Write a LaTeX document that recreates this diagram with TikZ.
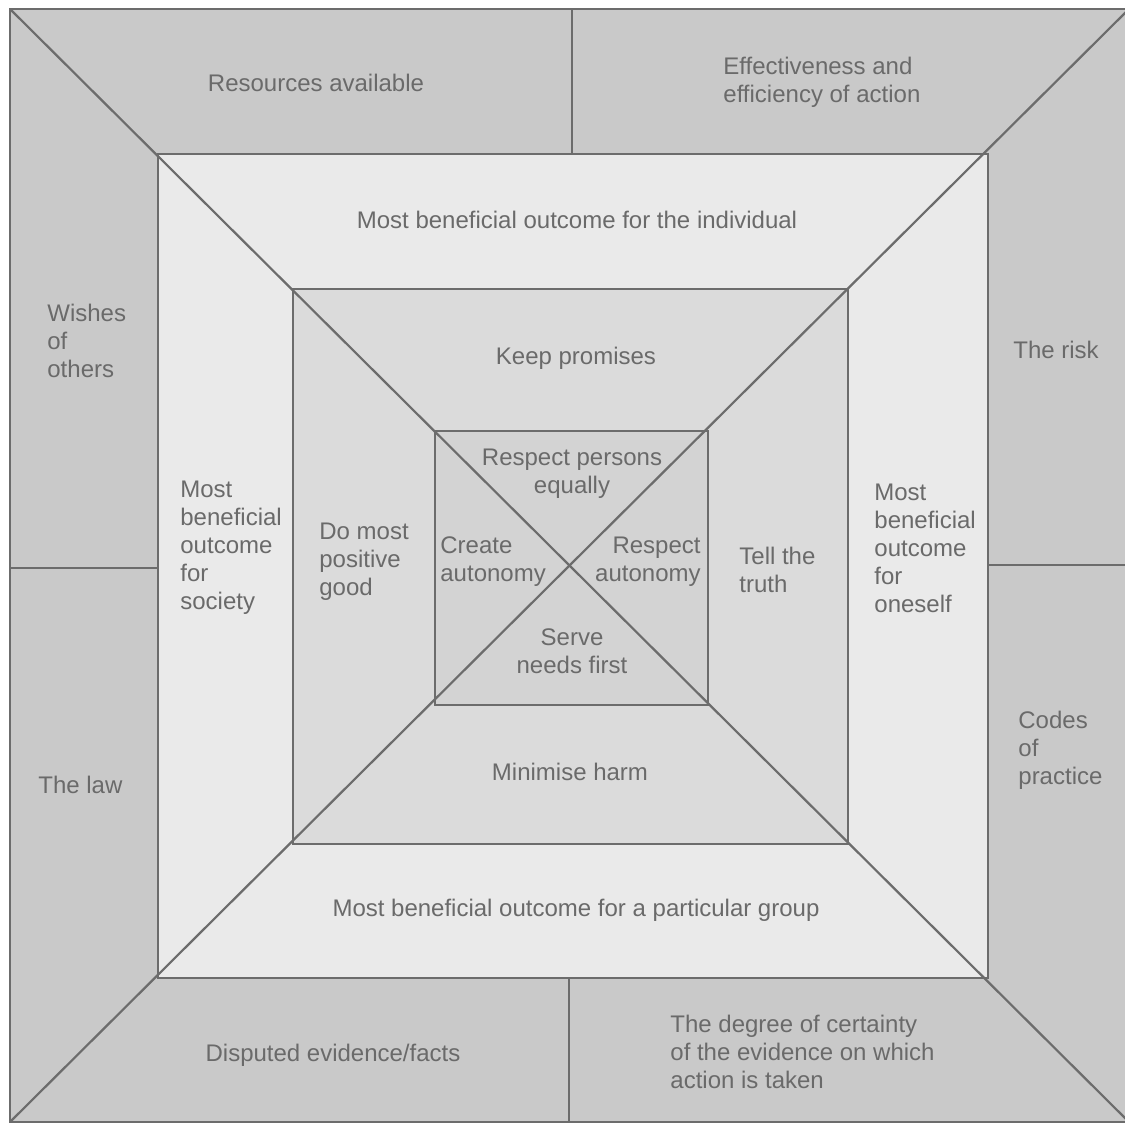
\documentclass[tikz,border=0pt]{standalone}
\usepackage{fontspec}
\setmainfont{Liberation Sans}
\definecolor{gridline}{HTML}{6C6C6C}
\definecolor{labelgray}{HTML}{6A6A6A}
\definecolor{ringouter}{HTML}{C9C9C9}
\definecolor{ringsecond}{HTML}{EAEAEA}
\definecolor{ringthird}{HTML}{DBDBDB}
\definecolor{ringinner}{HTML}{D3D3D3}
\begin{document}
\begin{tikzpicture}[x=0.5pt,y=-0.5pt,
    lbl/.style={font=\fontsize{12}{14}\selectfont, text=labelgray, inner sep=0pt},
    gridedge/.style={draw=gridline, line width=1.1pt}]
  \useasboundingbox (0,0) rectangle (1125,1123);
  % corners of the four squares
  \coordinate (onw) at (10,9);    \coordinate (one) at (1129,9);
  \coordinate (osw) at (10,1122); \coordinate (ose) at (1129,1122);
  \coordinate (snw) at (158,154); \coordinate (sne) at (988,154);
  \coordinate (ssw) at (158,978); \coordinate (sse) at (988,978);
  \coordinate (tnw) at (293,289); \coordinate (tne) at (848,289);
  \coordinate (tsw) at (293,844); \coordinate (tse) at (848,844);
  \coordinate (inw) at (435,431); \coordinate (ine) at (708,431);
  \coordinate (isw) at (435,705); \coordinate (ise) at (708,705);
  % ends of the split lines in the outer ring
  \coordinate (topa) at (572,9);    \coordinate (topb) at (572,154);
  \coordinate (bota) at (569,978);  \coordinate (botb) at (569,1122);
  \coordinate (lefta) at (10,568);  \coordinate (leftb) at (158,568);
  \coordinate (righta) at (988,565); \coordinate (rightb) at (1129,565);
  % rings
  \fill[ringouter] (onw) rectangle (ose);
  \fill[ringsecond] (snw) rectangle (sse);
  \fill[ringthird] (tnw) rectangle (tse);
  \fill[ringinner] (inw) rectangle (ise);
  % squares
  \draw[gridedge] (onw) rectangle (ose);
  \draw[gridedge] (snw) rectangle (sse);
  \draw[gridedge] (tnw) rectangle (tse);
  \draw[gridedge] (inw) rectangle (ise);
  % diagonals
  \draw[gridedge] (onw) -- (ose);
  \draw[gridedge] (one) -- (osw);
  % splits
  \draw[gridedge] (topa) -- (topb);
  \draw[gridedge] (bota) -- (botb);
  \draw[gridedge] (lefta) -- (leftb);
  \draw[gridedge] (righta) -- (rightb);
  % outer ring
  \node[lbl] (resources) at (316,83) {Resources available};
  \node[lbl, align=left, anchor=west] (effect) at (723,82) {Effectiveness and\\efficiency of action};
  \node[lbl, align=left, anchor=west] (wishes) at (47,341) {Wishes\\of\\others};
  \node[lbl, anchor=west] (law) at (38,785) {The law};
  \node[lbl, anchor=west] (risk) at (1013,350) {The risk};
  \node[lbl, align=left, anchor=west] (codes) at (1018,750) {Codes\\of\\practice};
  \node[lbl] (disputed) at (333,1055) {Disputed evidence/facts};
  \node[lbl, align=left, anchor=west] (certainty) at (670,1052) {The degree of certainty\\of the evidence on which\\action is taken};
  % second ring
  \node[lbl] (individual) at (577,220) {Most beneficial outcome for the individual};
  \node[lbl, align=left, anchor=west] (society) at (180,548) {Most\\beneficial\\outcome\\for\\society};
  \node[lbl, align=left, anchor=west] (oneself) at (874,548) {Most\\beneficial\\outcome\\for\\oneself};
  \node[lbl] (group) at (576,910) {Most beneficial outcome for a particular group};
  % third ring
  \node[lbl] (promises) at (576,358) {Keep promises};
  \node[lbl, align=left, anchor=west] (good) at (319,562) {Do most\\positive\\good};
  \node[lbl, align=left, anchor=west] (truth) at (739,570) {Tell the\\truth};
  \node[lbl] (harm) at (570,772) {Minimise harm};
  % inner square
  \node[lbl, align=center] (equally) at (572,474) {Respect persons\\equally};
  \node[lbl, align=left, anchor=west] (create) at (440,562) {Create\\autonomy};
  \node[lbl, align=right, anchor=east] (respect) at (701,562) {Respect\\autonomy};
  \node[lbl, align=center] (serve) at (572,651) {Serve\\needs first};
\end{tikzpicture}
\end{document}
